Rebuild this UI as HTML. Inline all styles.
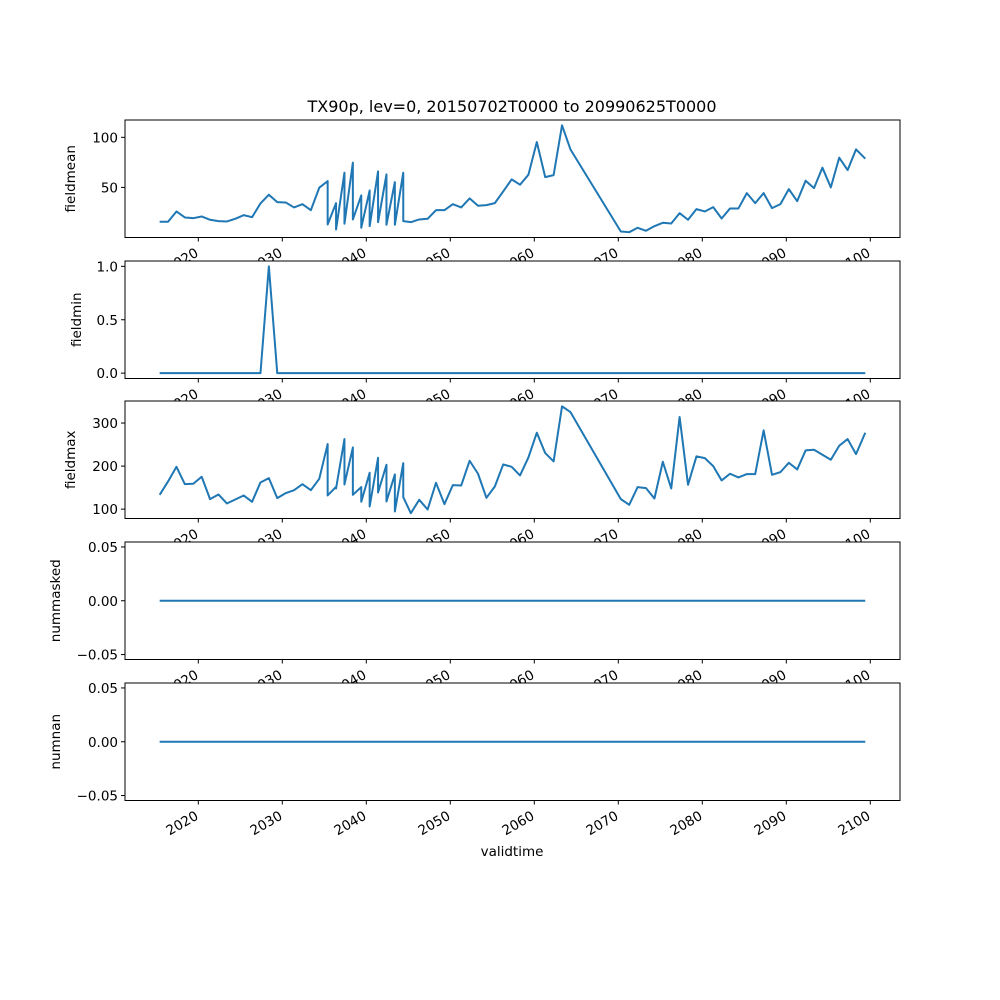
<!DOCTYPE html>
<html><head><meta charset="utf-8"><style>
body{margin:0;background:#fff;}
svg{display:block;font-family:"DejaVu Sans","Liberation Sans",sans-serif;}
</style></head><body>
<svg id="chart" width="1000" height="1000" viewBox="0 0 1000 1000"></svg>
<script>
const years = [2015.4,2016.4,2017.4,2018.4,2019.4,2020.4,2021.4,2022.4,2023.4,2024.4,2025.4,2026.4,2027.4,2028.4,2029.4,2030.4,2031.4,2032.4,2033.4,2034.4,2035.4,
2035.4,2036.4,2036.4,2037.4,2037.4,2038.4,2038.4,2039.4,2039.4,2040.4,2040.4,2041.4,2041.4,2042.4,2042.4,2043.4,2043.4,2044.4,2044.4,
2045.3,2046.3,2047.3,2048.3,2049.3,2050.3,2051.3,2052.3,2053.3,2054.3,2055.3,2056.3,2057.3,2058.3,2059.3,2060.3,2061.3,2062.3,2063.3,2064.3,
2070.3,2071.3,2072.3,2073.3,2074.3,2075.3,2076.3,2077.3,2078.3,2079.3,2080.3,2081.3,2082.3,2083.3,2084.3,2085.3,2086.3,2087.3,2088.3,2089.3,2090.3,2091.3,2092.3,2093.3,2094.3,2095.3,2096.3,2097.3,2098.3,2099.4];
const fieldmean = [15.7,15.7,26,20,19.3,21,17.7,16.3,16,18.7,22.3,20.3,34,42.7,35.3,35,30,33.3,27.3,49.7,56.3,
13,34.3,8,64.7,13.7,74.7,18,42,9.7,47,11.3,66,15.3,63,12.7,55.3,12.7,64.7,16.3,
15.3,18,18.7,27.3,27.3,33.3,30,39,31.7,32.3,34.3,46,58,52.7,62.7,95.3,60.3,62.3,112,88,
6,5.3,9.7,6.7,11.3,14.7,14,24.3,17.7,28.3,26,30.3,19,29,29,44.3,34.3,44.3,29.3,33.3,48.3,36.3,56.7,49.3,69.7,50,79.7,67.3,88,78.7];
const fieldmax = [133.3,164.3,198.4,158.1,159,175.2,123.3,134.1,113.2,122.5,131.8,117.1,162,172.1,125.6,137.2,144.2,158.1,144.2,170.5,251.2,
131.8,152,148,262.8,157.4,243.4,133.3,151.2,117.1,184.5,106.2,219.4,138.8,203.1,117.8,180.6,94.6,207,127.9,
90.7,121.7,99.2,161.2,111.6,155.8,155,212.4,182.2,126.4,152.7,203.9,198.4,178.3,220.2,277.5,230.2,210.9,338.8,325.6,
123.3,110.1,151.2,148.8,124.8,210.1,148.1,314,156.6,222.5,218.6,200,166.7,182.2,173.6,181.4,181.4,282.9,179.8,186,207.8,192.2,236.4,238,226.4,214.7,247.3,262.8,227.9,277.5];
const fieldmin = years.map((y,i)=> i===13 ? 1 : 0);
const nummasked = years.map(()=>0);
const numnan = years.map(()=>0);
const xTicks = [2020,2030,2040,2050,2060,2070,2080,2090,2100];

const panels = [
 {name:'fieldmean', vals:fieldmean, lo:0, hi:117.3, ticks:[50,100], fmt:v=>String(v), top:120, lx:75},
 {name:'fieldmin', vals:fieldmin, lo:-0.05, hi:1.05, ticks:[0,0.5,1], fmt:v=>v.toFixed(1), top:261, lx:81},
 {name:'fieldmax', vals:fieldmax, lo:78.3, hi:351.2, ticks:[100,200,300], fmt:v=>String(v), top:401, lx:75},
 {name:'nummasked', vals:nummasked, lo:-0.0546, hi:0.0546, ticks:[-0.05,0,0.05], fmt:v=>(v<0?'\u22120.05':v.toFixed(2)), top:542, lx:60},
 {name:'numnan', vals:numnan, lo:-0.0546, hi:0.0546, ticks:[-0.05,0,0.05], fmt:v=>(v<0?'\u22120.05':v.toFixed(2)), top:683, lx:60}
];
const L=125, R=900, H=117.5;
const xs = y => 198.3 + (y-2020)*8.4;
const NS='http://www.w3.org/2000/svg';
const svg=document.getElementById('chart');
function mk(tag,attrs,parent){const e=document.createElementNS(NS,tag);for(const k in attrs)e.setAttribute(k,attrs[k]);(parent||svg).appendChild(e);return e;}

const title=mk('text',{x:512,y:112,'text-anchor':'middle','font-size':'16px'});


title.textContent='TX90p, lev=0, 20150702T0000 to 20990625T0000';

panels.forEach((p)=>{
  const g=mk('g',{});
  
  
  const ys=v=>p.top+H-(v-p.lo)/(p.hi-p.lo)*H;
  mk('rect',{x:L,y:p.top,width:R-L,height:H,fill:'#fff'},g);
  const d=years.map((y,i)=>(i?'L':'M')+xs(y).toFixed(2)+','+ys(p.vals[i]).toFixed(2)).join('');
  const path=mk('path',{d:d,fill:'none',stroke:'#1f77b4','stroke-width':2,'stroke-linejoin':'round'},g);
  
  
  mk('rect',{x:L,y:p.top,width:R-L,height:H,fill:'none',stroke:'#000','stroke-width':1},g);
  p.ticks.forEach(t=>{
    const y=ys(t);
    mk('line',{x1:L-4,x2:L,y1:y,y2:y,stroke:'#000'},g);
    const tx=mk('text',{x:L-7,y:y+5,'text-anchor':'end','font-size':'13.5px'},g);
    
    
    tx.textContent=p.fmt(t);
  });
  const yl=mk('text',{x:p.lx,y:p.top+H/2,'text-anchor':'middle','font-size':'13.5px',transform:`rotate(-90 ${p.lx} ${p.top+H/2})`},g);
  
  
  yl.textContent=p.name;
  const by=p.top+H;
  xTicks.forEach(t=>{
    const x=xs(t);
    mk('line',{x1:x,x2:x,y1:by,y2:by+4,stroke:'#000'},g);
    const tx=mk('text',{x:0,y:0,'text-anchor':'end','font-size':'13.5px',transform:`translate(${x+1},${by+18}) rotate(-30)`},g);
    
    
    tx.textContent=String(t);
  });
});
const xl=mk('text',{x:512,y:856,'text-anchor':'middle','font-size':'13.5px'});


xl.textContent='validtime';
</script>
</body></html>
